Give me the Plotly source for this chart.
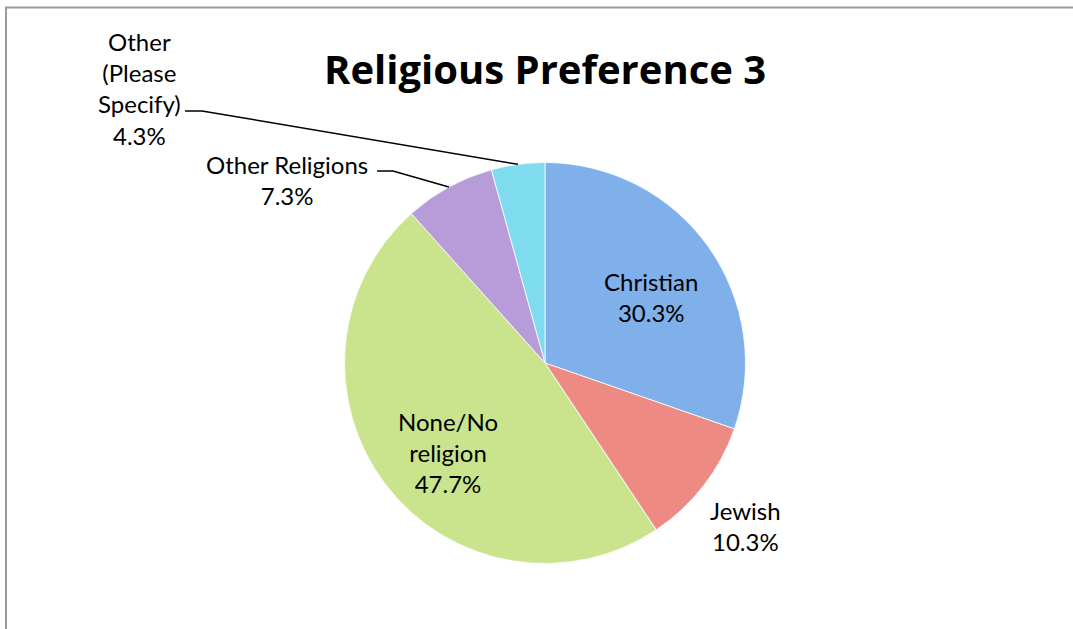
import math
import plotly.graph_objects as go

# ---- data ----
labels = ["Christian", "Jewish", "None/No religion", "Other Religions", "Other (Please Specify)"]
values = [30.3, 10.3, 47.7, 7.3, 4.3]
label_lines = ["Christian", "Jewish", "None/No<br>religion", "Other Religions", "Other<br>(Please<br>Specify)"]
colors = ["#7fb0ea", "#ee8a84", "#c9e48c", "#b89bd9", "#7fdcee"]
title_text = "Religious Preference 3"

# ---- layout geometry (screen pixels of the 1073x629 window) ----
W, H = 1073, 629
CX, CY, R = 545, 363, 200.5
label_pos = [(651, 297), (745, 526), (448, 452), (287, 180), (140, 89)]
leader = {3: [(377, 171), (393, 171)], 4: [(185, 111), (202, 111)]}
FONT = "Lato, Carlito, Calibri, sans-serif"


def px(x):
    return x / W


def py(y):
    return 1 - y / H


def slice_mid_point(i):
    total = sum(values)
    start = sum(values[:i])
    frac = (start + values[i] / 2) / total
    ang = 2 * math.pi * frac
    return CX + R * math.sin(ang), CY - R * math.cos(ang)


fig = go.Figure()
fig.add_trace(go.Pie(
    labels=labels,
    values=values,
    sort=False,
    direction="clockwise",
    rotation=0,
    textinfo="none",
    hoverinfo="label+percent",
    marker=dict(colors=colors, line=dict(color="white", width=0.8)),
    domain=dict(x=[px(CX - R), px(CX + R)], y=[py(CY + R), py(CY - R)]),
    showlegend=False,
))

annotations = []
for i, (lx, ly) in enumerate(label_pos):
    annotations.append(dict(
        x=px(lx), y=py(ly), xref="paper", yref="paper",
        text=f"{label_lines[i]}<br>{values[i]:.1f}%",
        showarrow=False, xanchor="center", yanchor="middle",
        font=dict(family=FONT, size=24, color="black"),
    ))
annotations.append(dict(
    x=px(545), y=py(68), xref="paper", yref="paper",
    text=f"<b>{title_text}</b>", showarrow=False,
    xanchor="center", yanchor="middle",
    font=dict(family="Open Sans, sans-serif", size=40, color="black"),
))

shapes = []
for i, pts in leader.items():
    ex, ey = slice_mid_point(i)
    allp = pts + [(ex, ey)]
    path = "M " + " L ".join(f"{px(x)},{py(y)}" for x, y in allp)
    shapes.append(dict(type="path", path=path, xref="paper", yref="paper",
                       line=dict(color="black", width=1.5)))
# chart frame
shapes.append(dict(type="line", xref="paper", yref="paper",
                   x0=px(5), x1=1, y0=py(7.5), y1=py(7.5),
                   line=dict(color="#9a9a9a", width=2)))
shapes.append(dict(type="line", xref="paper", yref="paper",
                   x0=px(6), x1=px(6), y0=py(7.5), y1=0,
                   line=dict(color="#9a9a9a", width=2)))

fig.update_layout(
    width=W, height=H,
    margin=dict(l=0, r=0, t=0, b=0),
    paper_bgcolor="white", plot_bgcolor="white",
    annotations=annotations, shapes=shapes,
)
fig.write_html("out.html", config={"displayModeBar": False},
               post_script="document.body.style.margin='0';document.body.style.overflow='hidden';")
